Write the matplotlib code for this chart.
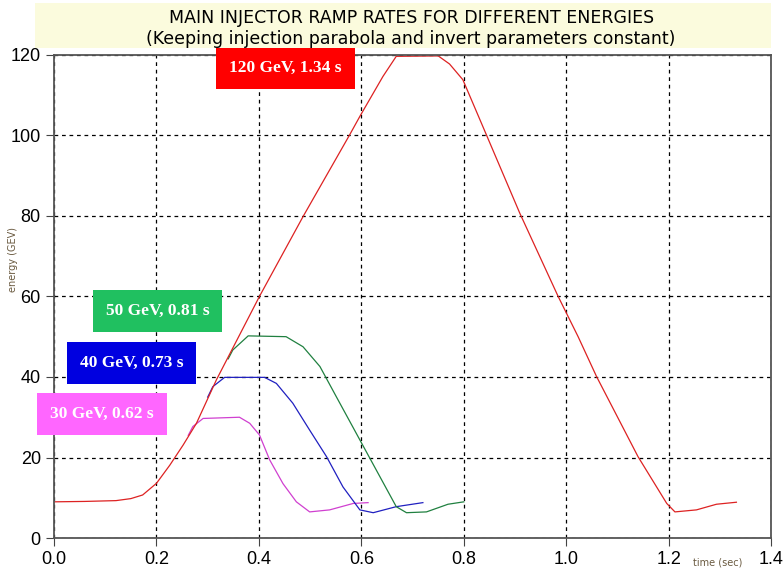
import matplotlib.pyplot as plt
from matplotlib.patches import Rectangle

# ramp curves (time in s, energy in GeV)
t120 = [0.0, 0.06, 0.121, 0.15, 0.173, 0.2, 0.226, 0.252, 0.278, 0.317, 0.401, 0.486,
        0.577, 0.597, 0.642, 0.668, 0.75, 0.772, 0.798, 0.844, 0.909, 0.984, 1.023,
        1.059, 1.140, 1.196, 1.212, 1.254, 1.293, 1.332]
e120 = [9.0, 9.1, 9.3, 9.8, 10.7, 13.6, 18.1, 23.1, 28.5, 39.3, 60.0, 79.8,
        100.1, 104.7, 114.6, 119.6, 119.7, 117.7, 113.8, 100.1, 80.7, 60.0, 50.0,
        40.1, 20.2, 8.6, 6.5, 7.0, 8.4, 8.9]

t30 = [0.262, 0.271, 0.291, 0.362, 0.382, 0.401, 0.421, 0.447, 0.473, 0.499, 0.538, 0.584, 0.613]
e30 = [25.5, 27.7, 29.7, 30.0, 28.5, 25.6, 19.4, 13.5, 9.0, 6.5, 7.0, 8.6, 8.8]

t40 = [0.300, 0.310, 0.333, 0.411, 0.434, 0.466, 0.499, 0.532, 0.564, 0.597, 0.623, 0.668, 0.720]
e40 = [35.0, 37.6, 39.9, 39.9, 38.4, 33.5, 26.8, 20.2, 12.7, 7.0, 6.3, 7.8, 8.8]

t50 = [0.340, 0.349, 0.379, 0.453, 0.486, 0.519, 0.551, 0.590, 0.629, 0.668, 0.688, 0.727, 0.769, 0.800]
e50 = [44.5, 46.7, 50.2, 50.0, 47.5, 42.6, 35.1, 26.0, 16.9, 7.8, 6.3, 6.5, 8.4, 9.0]

labels = ['120 GeV, 1.34 s', '50 GeV, 0.81 s', '40 GeV, 0.73 s', '30 GeV, 0.62 s']
label_x = [0.452, 0.202, 0.151, 0.093]
label_y = [116.8, 56.4, 43.5, 30.8]
box_colors = ['#ff0000', '#20c060', '#0000e0', '#ff66ff']

fig = plt.figure(figsize=(7.83, 5.70), dpi=100)

# title band
fig.patches.append(Rectangle((0.045, 0.915), 0.94, 0.08, transform=fig.transFigure,
                             facecolor='#fbfbdd', edgecolor='none', zorder=0))
fig.text(0.525, 0.968, 'MAIN INJECTOR RAMP RATES FOR DIFFERENT ENERGIES', ha='center', va='center',
         fontsize=12.5, family=['Liberation Sans Narrow', 'DejaVu Sans'])
fig.text(0.525, 0.932, '(Keeping injection parabola and invert parameters constant)', ha='center',
         va='center', fontsize=12.5, family=['Liberation Sans Narrow', 'DejaVu Sans'])

ax = fig.add_axes([0.069, 0.056, 0.916, 0.848])
ax.plot(t30, e30, color='#d040d0', lw=0.9)
ax.plot(t40, e40, color='#2020c0', lw=0.9)
ax.plot(t50, e50, color='#208040', lw=0.9)
ax.plot(t120, e120, color='#dd2222', lw=0.9)

ax.set_xlim(0, 1.4)
ax.set_ylim(0, 120)
ax.set_xticks([0.0, 0.2, 0.4, 0.6, 0.8, 1.0, 1.2, 1.4])
ax.set_xticklabels(['0.0', '0.2', '0.4', '0.6', '0.8', '1.0', '1.2', '1.4'])
ax.set_yticks([0, 20, 40, 60, 80, 100, 120])
ax.grid(True, color='black', linestyle=(0, (3, 3)), lw=0.9)
ax.tick_params(labelsize=13, length=6, color='#444444')
for lab in ax.get_xticklabels() + ax.get_yticklabels():
    lab.set_family(['Liberation Sans', 'DejaVu Sans'])
for s in ax.spines.values():
    s.set_color('#555555')
    s.set_linewidth(1.3)

for txt, x, y, c in zip(labels, label_x, label_y, box_colors):
    ax.text(x, y, txt, ha='center', va='center', color='white', fontsize=12.5,
            fontweight='bold', family=['Liberation Serif', 'DejaVu Serif'],
            bbox=dict(boxstyle='square,pad=0.75', facecolor=c, edgecolor='none'), zorder=5)

fig.text(0.016, 0.545, 'energy (GEV)', rotation=90, ha='center', va='center', fontsize=7,
         color='#6a5a40')
fig.text(0.917, 0.014, 'time (sec)', ha='center', va='center', fontsize=7, color='#6a5a40')

fig.savefig('out.png', dpi=100)
